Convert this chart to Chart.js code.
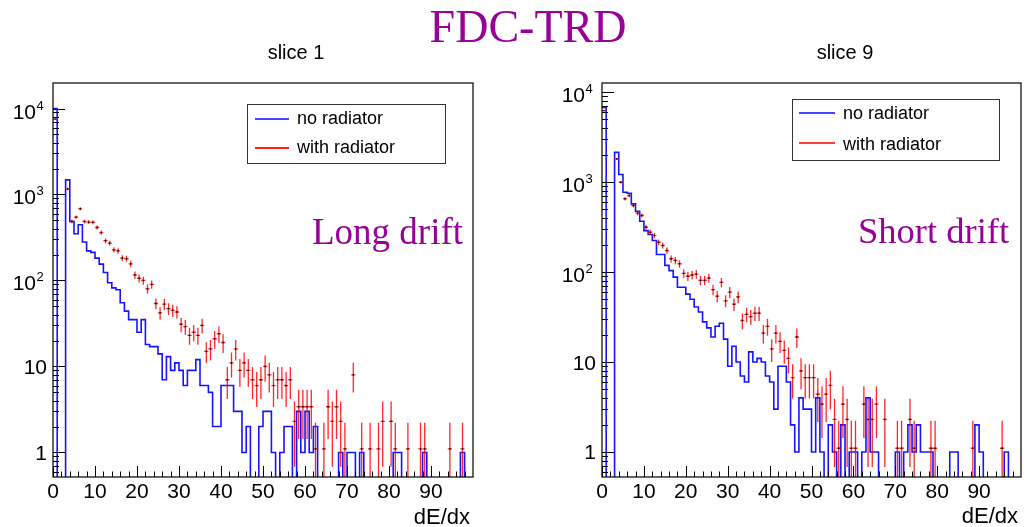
<!DOCTYPE html>
<html>
<head>
<meta charset="utf-8">
<title>FDC-TRD</title>
<script src="https://cdn.jsdelivr.net/npm/chart.js@4.4.0/dist/chart.umd.min.js"></script>
<style>
body { margin: 0; background: #fff; }
#wrap { position: relative; width: 1028px; height: 527px; overflow: hidden; background: #fff;
        font-family: "Liberation Sans", Arial, Helvetica, sans-serif; }
canvas { position: absolute; left: 0; top: 0; }
.txt { position: absolute; white-space: nowrap; color: #000; }
.serif { font-family: "Liberation Serif", "Times New Roman", serif; color: #990099; }
.box { position: absolute; border: 1px solid #333; box-sizing: border-box; }
.ln { position: absolute; height: 0; }
</style>
</head>
<body>
<div id="wrap">
  <canvas id="slice1" width="1028" height="527"></canvas>
  <canvas id="slice9" width="1028" height="527"></canvas>

  <div class="txt serif" style="left:528px; top:4px; font-size:46px; line-height:46px; transform:translateX(-50%);">FDC-TRD</div>

  <div class="txt" style="left:296px; top:42px; font-size:20px; line-height:20px; transform:translateX(-50%);">slice 1</div>
  <div class="txt" style="left:845px; top:42px; font-size:20px; line-height:20px; transform:translateX(-50%);">slice 9</div>

  <div class="txt serif" style="left:312px; top:213px; font-size:37px; line-height:37px;">Long drift</div>
  <div class="txt serif" style="left:858px; top:213px; font-size:36.5px; line-height:36.5px;">Short drift</div>

  <!-- legends -->
  <div class="box" style="left:247px; top:104px; width:199px; height:60px;"></div>
  <div class="ln" style="left:255px; top:118px; width:34px; border-top:2px solid #4646ff;"></div>
  <div class="ln" style="left:255px; top:147px; width:34px; border-top:2px solid #ff1e1e;"></div>
  <div class="txt" style="left:297px; top:109px; font-size:18px; line-height:18px;">no radiator</div>
  <div class="txt" style="left:297px; top:138px; font-size:18px; line-height:18px;">with radiator</div>

  <div class="box" style="left:792px; top:99px; width:208px; height:62px;"></div>
  <div class="ln" style="left:799px; top:112px; width:36px; border-top:2px solid #4646ff;"></div>
  <div class="ln" style="left:799px; top:142px; width:36px; border-top:2px solid #ff3c3c;"></div>
  <div class="txt" style="left:843px; top:104px; font-size:18px; line-height:18px;">no radiator</div>
  <div class="txt" style="left:843px; top:135px; font-size:18px; line-height:18px;">with radiator</div>

  <div class="txt" style="right:558px; top:506px; font-size:22px; line-height:22px;">dE/dx</div>
  <div class="txt" style="right:10px; top:505px; font-size:22px; line-height:22px;">dE/dx</div>
</div>

<script>
// dE/dx histograms, 100 bins of width 1 from 0 to 100 (bin i = [i, i+1])
var noRadSlice1 = [
  10000, 0, 0, 1480, 485, 349, 444, 280, 221, 212,
  182, 155, 124, 94, 82, 78, 55, 44, 35, 35,
  25, 35, 18, 17, 17, 14, 7, 13, 9, 11,
  9, 6, 9, 9, 12, 6, 6, 5, 2, 2,
  6, 6, 6, 3, 3, 1, 2, 0, 0, 2,
  3, 3, 1, 0, 1, 2, 2, 0, 3, 1,
  3, 1, 2, 0, 0, 0, 0, 0, 1, 0,
  1, 1, 0, 1, 0, 0, 0, 0, 0, 0,
  0, 1, 1, 0, 0, 0, 0, 0, 1, 0,
  0, 0, 0, 0, 0, 0, 0, 1, 0, 0
];
var withRadSlice1 = [
  7530, 0, 0, 1160, 485, 546, 682, 485, 478, 475,
  413, 361, 290, 272, 227, 221, 182, 179, 156, 116,
  106, 100, 80, 90, 54, 42, 53, 47, 45, 43,
  31, 29, 23, 25, 23, 30, 15, 16, 21, 24,
  19, 7, 11, 16, 9, 11, 9, 7, 6, 7,
  10, 8, 6, 7, 7, 6, 7, 2.3, 3.4, 3.4,
  3.4, 3.4, 1.1, 0, 1.1, 3.4, 2.3, 3.4, 2.3, 1.1,
  0, 8, 0, 1.1, 0, 1.1, 0, 1.1, 2.3, 0,
  2.3, 1.1, 0, 0, 1.1, 0, 0, 1.1, 1.1, 0,
  0, 0, 0, 0, 1.1, 0, 0, 1.1, 0, 0
];
var noRadSlice9 = [
  6800, 0, 0, 2150, 1218, 774, 755, 575, 476, 369,
  290, 262, 225, 157, 157, 119, 104, 88, 68, 68,
  57, 50, 41, 36, 28, 24, 19, 25, 27, 18,
  9, 15, 10, 7, 6, 13, 10, 11, 10, 7,
  6, 3, 9, 9, 6, 2, 1, 4, 3, 3,
  1, 4, 1, 0, 2, 1, 0, 2, 0, 1,
  1, 0, 1, 4, 1, 1, 0, 0, 0, 0,
  1, 0, 1, 2, 1, 2, 1, 1, 1, 0,
  0, 0, 0, 1, 1, 0, 0, 0, 0, 2,
  1, 0, 0, 0, 0, 0, 1, 0, 0, 0
];
var withRadSlice9 = [
  6260, 0, 0, 1820, 1000, 654, 711, 551, 453, 427,
  316, 278, 256, 215, 198, 174, 141, 135, 124, 97,
  90, 93, 95, 81, 81, 86, 64, 54, 77, 48,
  60, 44, 53, 29, 34, 32, 35, 35, 21, 25,
  14, 21, 17, 13.5, 11, 6.7, 19, 8, 6.7, 6.7,
  6.7, 4.4, 3.4, 4.4, 5.5, 2.3, 1.1, 3.4, 2.3, 1.1,
  1.1, 0, 3.4, 2.3, 2.3, 3.4, 0, 2.3, 0, 0,
  1.1, 1.1, 0, 2.3, 1.1, 0, 0, 0, 1.1, 1.1,
  0, 0, 0, 0, 0, 0, 0, 0, 1.1, 0,
  0, 0, 0, 0, 0, 1.1, 0, 0, 0, 0
];
// "with radiator" is scaled, one entry ~ 1.14 per count (used for error bars)
var weightWithRad = 1.14;

var xTickLabels = [0, 10, 20, 30, 40, 50, 60, 70, 80, 90];
var yTickValues = [1, 10, 100, 1000, 10000];
var yTickPowers = [null, null, '2', '3', '4'];


function stepPoints(vals, floor) {
    var pts = [];
    for (var i = 0; i < vals.length; i++) {
        pts.push({x: i, y: vals[i] > 0 ? vals[i] : floor});
    }
    var last = vals[vals.length - 1];
    pts.push({x: vals.length, y: last > 0 ? last : floor});
    return pts;
}

function markerPoints(vals) {
    var pts = [];
    for (var i = 0; i < vals.length; i++) {
        if (vals[i] > 0) pts.push({x: i + 0.5, y: vals[i]});
    }
    return pts;
}

// ROOT-like frame, ticks and error bars
function rootPlugin(redVals) {
    return {
        id: 'rootStyle',
        afterDatasetDraw: function (chart, args) {
            if (args.index !== 1) return;
            var ctx = chart.ctx, xs = chart.scales.x, ys = chart.scales.y, a = chart.chartArea;
            ctx.save();
            ctx.beginPath();
            ctx.rect(a.left, a.top, a.right - a.left, a.bottom - a.top);
            ctx.clip();
            ctx.strokeStyle = 'rgba(255,0,0,0.85)';
            ctx.lineWidth = 1.3;
            for (var i = 0; i < redVals.length; i++) {
                var v = redVals[i];
                if (!(v > 0)) continue;
                var e = Math.sqrt(v * weightWithRad);
                var cx = xs.getPixelForValue(i + 0.5);
                var cy = ys.getPixelForValue(v);
                var hi = ys.getPixelForValue(v + e);
                var lo = (v - e) > ys.min ? ys.getPixelForValue(v - e) : a.bottom + 5;
                ctx.beginPath();
                ctx.moveTo(cx, hi);
                ctx.lineTo(cx, lo);
                ctx.moveTo(xs.getPixelForValue(i), cy);
                ctx.lineTo(xs.getPixelForValue(i + 1), cy);
                ctx.stroke();
            }
            ctx.restore();
        },
        afterDraw: function (chart) {
            var ctx = chart.ctx, xs = chart.scales.x, ys = chart.scales.y, a = chart.chartArea;
            ctx.save();
            ctx.strokeStyle = '#000';
            ctx.lineWidth = 1.2;
            ctx.strokeRect(a.left, a.top, a.right - a.left, a.bottom - a.top);

            ctx.lineWidth = 1;
            ctx.beginPath();
            // x ticks: major every 10, minor every 2
            for (var t = 0; t <= 100; t += 2) {
                var px = Math.round(xs.getPixelForValue(t)) + 0.5;
                if (px > a.right - 1) break;
                var len = (t % 10 === 0) ? 11 : 5.5;
                ctx.moveTo(px, a.bottom);
                ctx.lineTo(px, a.bottom - len);
            }
            // y ticks (log): major per decade, minor 2..9
            for (var d = -1; d <= 4; d++) {
                for (var k = 1; k <= 9; k++) {
                    var val = k * Math.pow(10, d);
                    if (val < ys.min || val > ys.max) continue;
                    var py = Math.round(ys.getPixelForValue(val)) + 0.5;
                    var ln = (k === 1) ? 12 : 6;
                    ctx.moveTo(a.left, py);
                    ctx.lineTo(a.left + ln, py);
                }
            }
            ctx.stroke();

            ctx.fillStyle = '#000';
            ctx.font = '21px "Liberation Sans", Arial, sans-serif';
            ctx.textBaseline = 'alphabetic';
            ctx.textAlign = 'center';
            xTickLabels.forEach(function (v) {
                ctx.fillText(String(v), xs.getPixelForValue(v), a.bottom + 21);
            });
            yTickValues.forEach(function (v, i) {
                var py = ys.getPixelForValue(v);
                if (v > ys.max) return;
                if (yTickPowers[i]) {
                    ctx.font = '21px "Liberation Sans", Arial, sans-serif';
                    ctx.textAlign = 'right';
                    ctx.fillText('10', a.left - 17, py + 10);
                    ctx.font = '13px "Liberation Sans", Arial, sans-serif';
                    ctx.textAlign = 'left';
                    ctx.fillText(yTickPowers[i], a.left - 16.5, py + 1);
                } else {
                    ctx.font = '21px "Liberation Sans", Arial, sans-serif';
                    ctx.textAlign = 'right';
                    ctx.fillText(String(v), a.left - 6, py + 7.5);
                }
            });
            ctx.restore();
        }
    };
}

function makePanel(canvasId, blueVals, redVals, yMin, yMax, area) {
    var ctx = document.getElementById(canvasId).getContext('2d');
    return new Chart(ctx, {
        type: 'line',
        data: {
            datasets: [{
                label: 'with radiator',
                type: 'scatter',
                data: markerPoints(redVals),
                pointStyle: 'rect',
                pointRadius: 1,
                pointBackgroundColor: '#000',
                pointBorderColor: '#000',
                pointBorderWidth: 0,
                showLine: false,
                clip: 0
            }, {
                label: 'no radiator',
                data: stepPoints(blueVals, yMin / 4),
                stepped: 'before',
                borderColor: '#1414ff',
                borderWidth: 1.6,
                pointRadius: 0,
                fill: false,
                clip: 0
            }]
        },
        options: {
            responsive: false,
            animation: false,
            events: [],
            layout: {
                padding: {left: area.left, top: area.top, right: 1028 - area.right, bottom: 527 - area.bottom}
            },
            scales: {
                x: {type: 'linear', min: 0, max: 100, display: false},
                y: {type: 'logarithmic', min: yMin, max: yMax, display: false}
            },
            plugins: {
                legend: {display: false},
                tooltip: {enabled: false}
            }
        },
        plugins: [rootPlugin(redVals)]
    });
}

var chartSlice1 = makePanel('slice1', noRadSlice1, withRadSlice1, 0.518, 19800,
    {left: 53, top: 83, right: 473, bottom: 477});
var chartSlice9 = makePanel('slice9', noRadSlice9, withRadSlice9, 0.527, 12700,
    {left: 602, top: 83, right: 1021, bottom: 477});
</script>
</body>
</html>
